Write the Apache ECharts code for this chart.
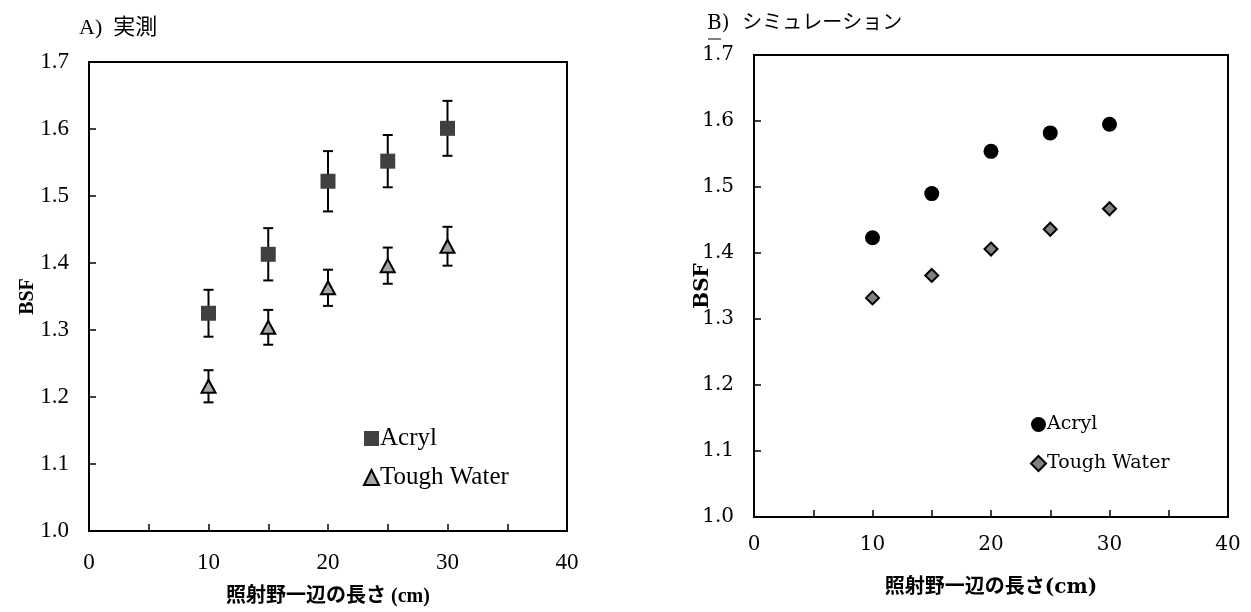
<!DOCTYPE html>
<html lang="ja">
<head>
    <meta charset="UTF-8">
    <title>BSF</title>
    <script src="https://cdn.jsdelivr.net/npm/echarts@6/dist/echarts.min.js"></script>
    <style>
        body { margin: 0; background: #fff; }
        #main { width: 1251px; height: 612px; }
    </style>
</head>
<body>
<div id="main"></div>
<script type="text/javascript">
    // 照射野一辺の長さ (cm)
    var fieldSize = [10, 15, 20, 25, 30];
    // A) 実測
    var acrylMeas = [1.325, 1.413, 1.522, 1.552, 1.601];
    var acrylMeasErr = [0.035, 0.039, 0.045, 0.039, 0.041];
    var toughMeas = [1.216, 1.304, 1.363, 1.396, 1.425];
    var toughMeasErr = [0.024, 0.026, 0.027, 0.027, 0.029];
    // B) シミュレーション
    var acrylSim = [1.423, 1.490, 1.554, 1.582, 1.595];
    var toughSim = [1.332, 1.366, 1.406, 1.436, 1.467];

    var fontA = '"Liberation Serif", "Noto Sans CJK JP", serif';
    var fontB = '"DejaVu Serif", "Noto Sans CJK JP", serif';

    function pairs(xs, ys) {
        return xs.map(function (x, i) { return [x, ys[i]]; });
    }
    function errData(xs, ys, es) {
        return xs.map(function (x, i) { return [x, ys[i] - es[i], ys[i] + es[i]]; });
    }
    function renderErr(params, api) {
        var lo = api.coord([api.value(0), api.value(1)]);
        var hi = api.coord([api.value(0), api.value(2)]);
        var w = 5;
        var st = { stroke: '#000', lineWidth: 2 };
        return {
            type: 'group',
            children: [
                { type: 'line', shape: { x1: lo[0], y1: lo[1], x2: hi[0], y2: hi[1] }, style: st },
                { type: 'line', shape: { x1: lo[0] - w, y1: lo[1], x2: lo[0] + w, y2: lo[1] }, style: st },
                { type: 'line', shape: { x1: hi[0] - w, y1: hi[1], x2: hi[0] + w, y2: hi[1] }, style: st }
            ]
        };
    }

    function xAxis(idx, font, gap, size, margin) {
        return {
            type: 'value', gridIndex: idx, min: 0, max: 40, interval: 10,
            name: idx === 0 ? '照射野一辺の長さ (cm)' : '照射野一辺の長さ(cm)',
            nameLocation: 'middle', nameGap: gap, nameMoveOverlap: false,
            nameTextStyle: { fontFamily: font, fontSize: 20, fontWeight: 'bold', color: '#000' },
            axisLine: { show: true, lineStyle: { color: '#000', width: 2 } },
            axisTick: { show: true, inside: true, length: 7, lineStyle: { color: '#000', width: 1.5 } },
            minorTick: { show: true, splitNumber: 2, length: 7, lineStyle: { color: '#000', width: 1.5 } },
            axisLabel: { fontFamily: font, fontSize: size, color: '#000', margin: margin },
            splitLine: { show: false }
        };
    }
    function yAxis(idx, font, gap, size) {
        return {
            type: 'value', gridIndex: idx, min: 1.0, max: 1.7, interval: 0.1,
            name: 'BSF', nameLocation: 'middle', nameGap: gap, nameMoveOverlap: false,
            nameTextStyle: { fontFamily: font, fontSize: 20, fontWeight: 'bold', color: '#000' },
            axisLine: { show: true, lineStyle: { color: '#000', width: 2 } },
            axisTick: { show: true, inside: true, length: 7, lineStyle: { color: '#000', width: 1.5 } },
            axisLabel: {
                fontFamily: font, fontSize: size, color: '#000', margin: 20,
                formatter: function (v) { return v.toFixed(1); }
            },
            splitLine: { show: false }
        };
    }

    var chart = echarts.init(document.getElementById('main'));
    var option = {
        animation: false,
        backgroundColor: '#fff',
        title: [
            { text: 'A)  実測', left: 74, top: 12, textStyle: { fontFamily: fontA, fontSize: 22, fontWeight: 'normal', color: '#000' } },
            { text: 'B)  シミュレーション', left: 702, top: 9, textStyle: { fontFamily: fontB, fontSize: 20, fontWeight: 'normal', color: '#000' } }
        ],
        grid: [
            { left: 89, top: 62, width: 478, height: 470, show: true, borderColor: '#000', borderWidth: 2, containLabel: false },
            { left: 754, top: 55, width: 474, height: 462, show: true, borderColor: '#000', borderWidth: 2, containLabel: false }
        ],
        xAxis: [xAxis(0, fontA, 56, 23, 20), xAxis(1, fontB, 61, 20, 18)],
        yAxis: [yAxis(0, fontA, 51, 23), yAxis(1, fontB, 41, 20)],
        legend: [
            {
                data: ['A_Acryl', 'A_Tough Water'], orient: 'vertical', left: 358, top: 421,
                itemGap: 14, itemWidth: 15, itemHeight: 15,
                formatter: function (n) { return n.slice(2); },
                textStyle: { fontFamily: fontA, fontSize: 25, color: '#000', padding: [0, 0, 0, -4] }
            },
            {
                data: ['B_Acryl', 'B_Tough Water'], orient: 'vertical', left: 1025, top: 410,
                itemGap: 20, itemWidth: 15, itemHeight: 15,
                formatter: function (n) { return n.slice(2); },
                textStyle: { fontFamily: fontB, fontSize: 19, color: '#000', padding: [0, 0, 0, -4] }
            }
        ],
        series: [
            {
                type: 'custom', xAxisIndex: 0, yAxisIndex: 0, z: 1, silent: true,
                renderItem: renderErr, data: errData(fieldSize, acrylMeas, acrylMeasErr)
            },
            {
                type: 'custom', xAxisIndex: 0, yAxisIndex: 0, z: 1, silent: true,
                renderItem: renderErr, data: errData(fieldSize, toughMeas, toughMeasErr)
            },
            {
                name: 'A_Acryl', type: 'scatter', xAxisIndex: 0, yAxisIndex: 0, z: 3,
                symbol: 'rect', symbolSize: 15,
                itemStyle: { color: '#404040', opacity: 1 },
                data: pairs(fieldSize, acrylMeas)
            },
            {
                name: 'A_Tough Water', type: 'scatter', xAxisIndex: 0, yAxisIndex: 0, z: 3,
                symbol: 'triangle', symbolSize: [14, 13],
                itemStyle: { color: '#a6a6a6', borderColor: '#000', borderWidth: 2, opacity: 1 },
                data: pairs(fieldSize, toughMeas)
            },
            {
                name: 'B_Acryl', type: 'scatter', xAxisIndex: 1, yAxisIndex: 1, z: 3,
                symbol: 'circle', symbolSize: 15,
                itemStyle: { color: '#000', opacity: 1 },
                data: pairs(fieldSize, acrylSim)
            },
            {
                name: 'B_Tough Water', type: 'scatter', xAxisIndex: 1, yAxisIndex: 1, z: 3,
                symbol: 'diamond', symbolSize: 13,
                itemStyle: { color: '#808080', borderColor: '#000', borderWidth: 2, opacity: 1 },
                data: pairs(fieldSize, toughSim)
            }
        ],
        graphic: [
            { type: 'line', shape: { x1: 708, y1: 39, x2: 721, y2: 39 }, style: { stroke: '#000', lineWidth: 1 } }
        ]
    };
    option && chart.setOption(option);
</script>
</body>
</html>
